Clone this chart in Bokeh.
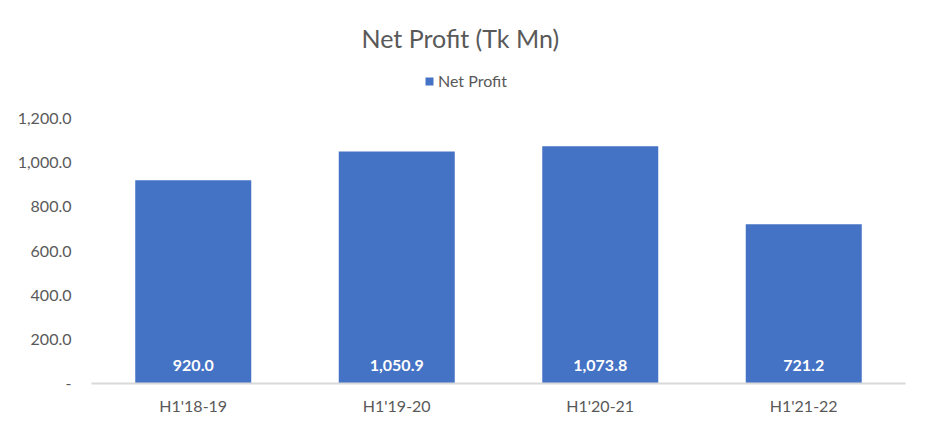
from bokeh.plotting import figure
from bokeh.models import ColumnDataSource, FactorRange, Range1d, FixedTicker, Legend, LegendItem
from bokeh.core.properties import value
from bokeh.embed import file_html
from bokeh.resources import INLINE

categories = ["H1'18-19", "H1'19-20", "H1'20-21", "H1'21-22"]
net_profit = [920.0, 1050.9, 1073.8, 721.2]
y_ticks = [0, 200, 400, 600, 800, 1000, 1200]
y_tick_labels = ["-", "200.0", "400.0", "600.0", "800.0", "1,000.0", "1,200.0"]
series_name = "Net Profit"
title_text = "Net Profit (Tk Mn)"

FONT = "Lato"
TXT = "#595959"
BAR = "#4472C4"

src = ColumnDataSource(dict(
    cat=categories,
    val=net_profit,
    lab=["{:,.1f}".format(v) for v in net_profit],
    base=[0] * len(net_profit),
))

# frame extends above the 1,200 tick so the legend can sit inside it
FRAME_H = 326
AXIS_H = 265
p = figure(
    frame_width=814, frame_height=FRAME_H,
    x_range=FactorRange(*categories),
    y_range=Range1d(0, 1200 * FRAME_H / AXIS_H),
    output_backend="svg", toolbar_location=None,
    min_border_left=91, min_border_right=16, min_border_top=57, min_border_bottom=47,
)
p.outline_line_color = None
p.xgrid.visible = False
p.ygrid.visible = False

p.title.text = title_text
p.title.align = "left"
p.title.offset = 270
p.title.text_font = FONT
p.title.text_font_size = "25px"
p.title.text_font_style = "normal"
p.title.text_color = TXT

bars = p.vbar(x="cat", top="val", width=0.57, source=src, fill_color=BAR, line_color=None)

p.text(x="cat", y="base", text="lab", source=src, y_offset=-18,
       text_align="center", text_baseline="middle",
       text_font=value(FONT), text_font_size="16px", text_font_style="bold",
       text_color="white")

legend = Legend(items=[LegendItem(label=series_name, renderers=[bars])],
                orientation="horizontal", location=(333, 293),
                label_text_font=FONT, label_text_font_size="16px", label_text_color=TXT,
                glyph_width=10, glyph_height=10, border_line_color=None,
                background_fill_alpha=0, label_standoff=4, padding=0, margin=0)
p.add_layout(legend)

p.yaxis.ticker = FixedTicker(ticks=y_ticks)
p.yaxis.major_label_overrides = {t: l for t, l in zip(y_ticks, y_tick_labels)}
p.yaxis.axis_line_color = None
p.yaxis.major_tick_line_color = None
p.yaxis.minor_tick_line_color = None
p.yaxis.major_tick_out = 0
p.yaxis.major_label_standoff = 20
p.yaxis.major_label_text_font = FONT
p.yaxis.major_label_text_font_size = "16px"
p.yaxis.major_label_text_color = TXT

p.xaxis.axis_line_color = "#D9D9D9"
p.xaxis.axis_line_width = 2
p.xaxis.major_tick_line_color = None
p.xaxis.minor_tick_line_color = None
p.xaxis.major_tick_out = 0
p.xaxis.major_label_standoff = 12
p.xaxis.major_label_text_font = FONT
p.xaxis.major_label_text_font_size = "16px"
p.xaxis.major_label_text_color = TXT

open("out.html", "w").write(file_html(p, INLINE))
